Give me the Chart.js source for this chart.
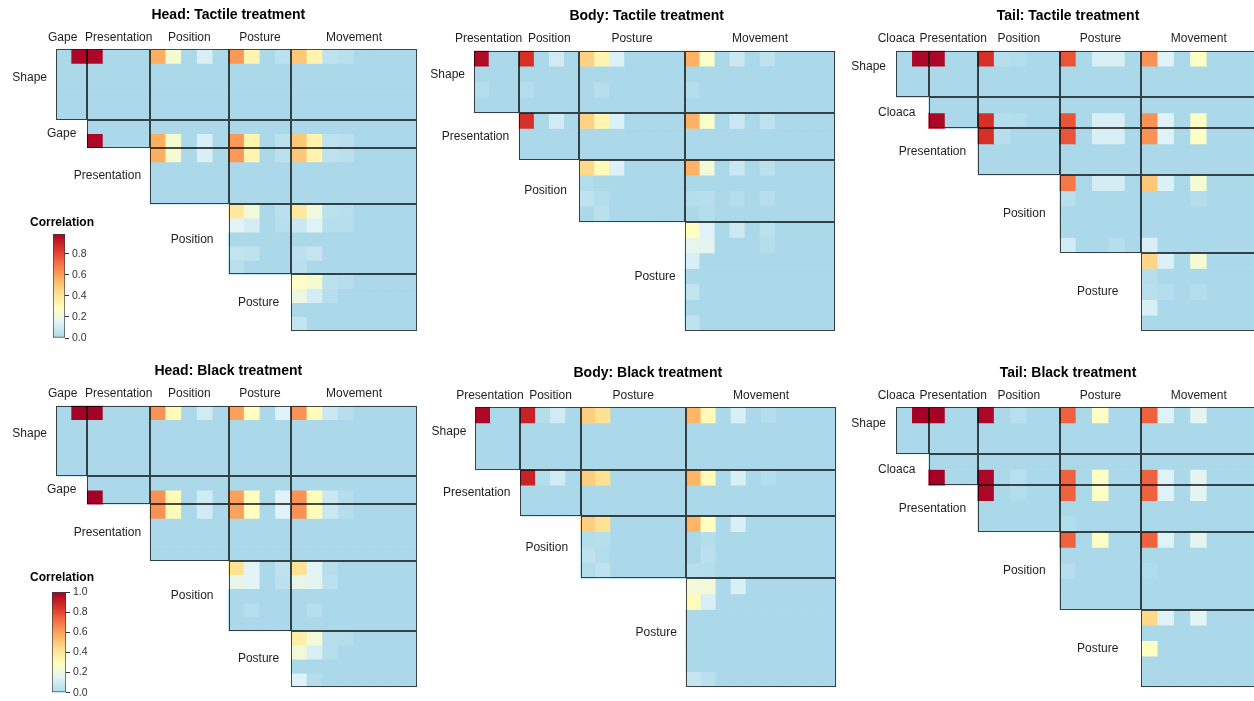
<!DOCTYPE html>
<html><head><meta charset="utf-8">
<script src="https://cdn.jsdelivr.net/npm/chart.js@4.4.1/dist/chart.umd.min.js"></script>
<style>
html,body{margin:0;padding:0;background:#fff;overflow:hidden;width:1254px;height:701px;}
#wrap{position:relative;width:1254px;height:701px;overflow:hidden;background:#fff;}
canvas{position:absolute;}
</style></head><body><div id="wrap">
<canvas id="p1" width="420" height="350" style="left:0;top:0"></canvas>
<canvas id="p2" width="420" height="350" style="left:420px;top:0"></canvas>
<canvas id="p3" width="420" height="350" style="left:840px;top:0"></canvas>
<canvas id="p4" width="420" height="351" style="left:0;top:350px"></canvas>
<canvas id="p5" width="420" height="351" style="left:420px;top:350px"></canvas>
<canvas id="p6" width="420" height="351" style="left:840px;top:350px"></canvas>
<canvas id="lg1" width="120" height="145" style="left:0;top:205px;z-index:2"></canvas>
<canvas id="lg2" width="120" height="140" style="left:0;top:562px;z-index:2"></canvas>
</div>
<script>
// ---------- categories ----------
const headColGroups = ["Gape","Presentation","Position","Posture","Movement"];
const headColSizes  = [2,4,5,4,8];
const headRowGroups = ["Shape","Gape","Presentation","Position","Posture"];
const headRowSizes  = [5,2,4,5,4];

const bodyColGroups = ["Presentation","Position","Posture","Movement"];
const bodyColSizes  = [3,4,7,10];
const bodyRowGroups = ["Shape","Presentation","Position","Posture"];
const bodyRowSizes  = [4,3,4,7];

const tailColGroups = ["Cloaca","Presentation","Position","Posture","Movement"];
const tailColSizes  = [2,3,5,5,7];
const tailRowGroups = ["Shape","Cloaca","Presentation","Position","Posture"];
const tailRowSizes  = [3,2,3,5,5];

// ---------- values: [row, column, correlation]; all other cells 0 ----------
const headTactileCells = [
 [0,1,0.98],[0,2,0.98],[0,6,0.57],[0,7,0.24],[0,9,0.12],[0,11,0.62],[0,12,0.33],[0,14,0.045],[0,15,0.5],[0,16,0.34],[0,17,0.05],[0,18,0.04],
 [6,2,0.98],[6,6,0.57],[6,7,0.24],[6,9,0.12],[6,11,0.62],[6,12,0.33],[6,14,0.045],[6,15,0.5],[6,16,0.34],[6,17,0.05],[6,18,0.04],
 [7,6,0.57],[7,7,0.24],[7,9,0.12],[7,11,0.62],[7,12,0.33],[7,14,0.045],[7,15,0.5],[7,16,0.34],[7,17,0.05],[7,18,0.04],
 [11,11,0.39],[11,12,0.22],[11,14,0.04],[11,15,0.39],[11,16,0.21],[11,17,0.045],[11,18,0.035],
 [12,11,0.15],[12,12,0.11],[12,14,0.03],[12,15,0.08],[12,16,0.14],[12,17,0.03],[12,18,0.03],
 [14,11,0.06],[14,12,0.05],[14,15,0.045],[14,16,0.07],
 [15,11,0.035],[15,15,0.04],
 [16,15,0.27],[16,16,0.24],[16,17,0.045],[16,18,0.03],
 [17,15,0.2],[17,16,0.11],[17,17,0.03],
 [19,15,0.06]
];
const bodyTactileCells = [
 [0,0,0.97],[0,3,0.86],[0,5,0.1],[0,7,0.47],[0,8,0.33],[0,9,0.13],[0,14,0.56],[0,15,0.26],[0,17,0.08],[0,19,0.05],
 [2,0,0.025],[2,3,0.025],[2,8,0.03],[2,14,0.025],
 [4,3,0.86],[4,5,0.1],[4,7,0.47],[4,8,0.33],[4,9,0.13],[4,14,0.56],[4,15,0.26],[4,17,0.08],[4,19,0.05],
 [7,7,0.45],[7,8,0.31],[7,9,0.13],[7,14,0.56],[7,15,0.22],[7,17,0.08],[7,19,0.045],
 [8,7,0.02],
 [9,7,0.05],[9,8,0.025],[9,14,0.025],[9,15,0.03],[9,17,0.025],[9,19,0.03],
 [10,8,0.04],[10,15,0.025],
 [11,14,0.28],[11,15,0.14],[11,17,0.09],[11,19,0.045],
 [12,14,0.17],[12,15,0.16],[12,19,0.025],
 [13,14,0.12],
 [15,14,0.06],
 [17,14,0.05]
];
const tailTactileCells = [
 [0,1,0.98],[0,2,0.98],[0,5,0.86],[0,6,0.03],[0,7,0.02],[0,10,0.77],[0,12,0.12],[0,13,0.12],[0,15,0.63],[0,16,0.14],[0,18,0.27],
 [4,2,0.98],[4,5,0.86],[4,6,0.03],[4,7,0.025],[4,10,0.77],[4,12,0.12],[4,13,0.12],[4,15,0.63],[4,16,0.14],[4,18,0.27],
 [5,5,0.86],[5,6,0.03],[5,10,0.77],[5,12,0.12],[5,13,0.12],[5,15,0.63],[5,16,0.14],[5,18,0.27],
 [8,10,0.69],[8,12,0.11],[8,13,0.11],[8,15,0.5],[8,16,0.13],[8,18,0.24],
 [9,10,0.035],[9,18,0.025],
 [12,10,0.1],[12,13,0.03],[12,15,0.12],
 [13,15,0.46],[13,16,0.13],[13,18,0.24],
 [14,15,0.03],
 [15,15,0.04],[15,16,0.025],[15,18,0.025],
 [16,15,0.12]
];
const headBlackCells = [
 [0,1,1.0],[0,2,1.0],[0,6,0.63],[0,7,0.31],[0,9,0.1],[0,11,0.6],[0,12,0.29],[0,14,0.14],[0,15,0.63],[0,16,0.3],[0,17,0.08],[0,18,0.03],
 [6,2,1.0],[6,6,0.63],[6,7,0.31],[6,9,0.1],[6,11,0.6],[6,12,0.29],[6,14,0.14],[6,15,0.63],[6,16,0.3],[6,17,0.08],[6,18,0.03],
 [7,6,0.63],[7,7,0.31],[7,9,0.1],[7,11,0.6],[7,12,0.29],[7,14,0.14],[7,15,0.63],[7,16,0.3],[7,17,0.08],[7,18,0.03],
 [11,11,0.42],[11,12,0.15],[11,14,0.05],[11,15,0.42],[11,16,0.15],[11,17,0.03],
 [12,11,0.18],[12,12,0.15],[12,14,0.045],[12,15,0.18],[12,16,0.16],[12,17,0.045],
 [14,12,0.03],[14,16,0.03],
 [16,15,0.36],[16,16,0.23],[16,17,0.03],[16,18,0.025],
 [17,15,0.22],[17,16,0.12],[17,17,0.03],
 [19,15,0.14],[19,16,0.025]
];
const bodyBlackCells = [
 [0,0,0.98],[0,3,0.9],[0,4,0.025],[0,5,0.1],[0,7,0.48],[0,8,0.42],[0,14,0.55],[0,15,0.31],[0,17,0.12],[0,19,0.025],
 [4,3,0.9],[4,4,0.025],[4,5,0.1],[4,7,0.48],[4,8,0.42],[4,14,0.55],[4,15,0.31],[4,17,0.12],[4,19,0.025],
 [7,7,0.48],[7,8,0.42],[7,14,0.55],[7,15,0.28],[7,17,0.12],
 [8,7,0.025],[8,8,0.03],[8,15,0.025],
 [9,7,0.05],[9,8,0.02],[9,15,0.04],
 [10,7,0.02],[10,8,0.05],[10,14,0.03],[10,15,0.025],
 [11,14,0.22],[11,15,0.22],[11,17,0.12],
 [12,14,0.3],[12,15,0.12],
 [17,14,0.07],[17,15,0.04]
];
const tailBlackCells = [
 [0,1,1.0],[0,2,1.0],[0,5,0.98],[0,7,0.035],[0,10,0.74],[0,12,0.27],[0,15,0.74],[0,16,0.14],[0,18,0.16],
 [4,2,1.0],[4,5,0.98],[4,7,0.035],[4,10,0.74],[4,12,0.27],[4,15,0.74],[4,16,0.14],[4,18,0.16],
 [5,5,0.98],[5,7,0.02],[5,10,0.74],[5,12,0.27],[5,15,0.74],[5,16,0.14],[5,18,0.16],
 [7,10,0.02],
 [8,10,0.74],[8,12,0.27],[8,15,0.74],[8,16,0.14],[8,18,0.16],
 [10,10,0.03],[10,15,0.015],
 [13,15,0.45],[13,16,0.14],[13,18,0.16],
 [15,15,0.28]
];

// ---------- colour bar tick labels ----------
const legendTicksTactile = [0, 0.2, 0.4, 0.6, 0.8];
const legendTicksBlack   = [0, 0.2, 0.4, 0.6, 0.8, 1.0];

// ---------- styling ----------
const FONT = "'Liberation Sans', Arial, Helvetica, sans-serif";
const colorStops = [[0,'#abd9e9'],[1/7,'#e0f3f8'],[2/7,'#ffffbf'],[3/7,'#fee090'],[4/7,'#fdae61'],[5/7,'#f46d43'],[6/7,'#d73027'],[1,'#a50026']];
function hex2rgb(h){return [parseInt(h.slice(1,3),16),parseInt(h.slice(3,5),16),parseInt(h.slice(5,7),16)];}
function valColor(v){
  v = Math.max(0, Math.min(1, v));
  for (let i = 1; i < colorStops.length; i++) {
    if (v <= colorStops[i][0]) {
      const [a, ca] = colorStops[i-1], [b, cb] = colorStops[i];
      const t = (v - a) / (b - a), A = hex2rgb(ca), B = hex2rgb(cb);
      return `rgb(${A.map((x,k)=>Math.round(x+(B[k]-x)*t)).join(',')})`;
    }
  }
  return colorStops[colorStops.length-1][1];
}
const sum = a => a.reduce((s,x)=>s+x,0);
const starts = a => a.map((_,i)=>sum(a.slice(0,i)));

function makePanel(id, title, colGroups, colSizes, rowGroups, rowSizes, cells, pad, lay) {
  const nCols = sum(colSizes), nRows = sum(rowSizes);
  const cStart = starts(colSizes), rStart = starts(rowSizes);
  const vals = Array.from({length:nRows}, () => new Array(nCols).fill(0));
  cells.forEach(([r,c,v]) => { vals[r][c] = v; });
  const labels = [];
  colGroups.forEach((g,i) => { for (let k=0;k<colSizes[i];k++) labels.push(g+' '+(k+1)); });
  const datasets = [];
  rowGroups.forEach((g,k) => {
    for (let j = 0; j < rowSizes[k]; j++) {
      const r = rStart[k] + j;
      datasets.push({
        label: g + ' ' + (j+1),
        data: labels.map((_,c) => c >= cStart[k] ? [r, r+1] : null),
        backgroundColor: labels.map((_,c) => valColor(vals[r][c])),
        borderWidth: 0,
        grouped: false,
        barPercentage: 1,
        categoryPercentage: 1
      });
    }
  });
  const deco = {
    id: 'deco' + id,
    afterDatasetsDraw(chart) {
      const ctx = chart.ctx, xs = chart.scales.x, ys = chart.scales.y;
      const xe = c => xs.getPixelForValue(c - 0.5), ye = r => ys.getPixelForValue(r);
      ctx.save();
      ctx.strokeStyle = 'rgba(0,0,0,0.7)';
      ctx.lineWidth = 1;
      rowGroups.forEach((_,k) => {
        for (let j = k; j < colGroups.length; j++) {
          const x0 = Math.round(xe(cStart[j])) + 0.5, x1 = Math.round(xe(cStart[j] + colSizes[j])) - 0.5;
          const y0 = Math.round(ye(rStart[k])) + 0.5, y1 = Math.round(ye(rStart[k] + rowSizes[k])) - 0.5;
          ctx.strokeRect(x0, y0, x1 - x0, y1 - y0);
        }
      });
      ctx.restore();
    },
    afterDraw(chart) {
      const ctx = chart.ctx, xs = chart.scales.x, ys = chart.scales.y, ca = chart.chartArea;
      const xe = c => xs.getPixelForValue(c - 0.5), ye = r => ys.getPixelForValue(r);
      ctx.save();
      ctx.textBaseline = 'middle';
      ctx.textAlign = 'center';
      ctx.fillStyle = '#000';
      ctx.font = `bold 14px ${FONT}`;
      ctx.fillText(title, (ca.left + ca.right) / 2 - 8, ca.top - 34.5);
      ctx.font = `12px ${FONT}`;
      ctx.fillStyle = '#1e1e1e';
      colGroups.forEach((g,j) => {
        const cx = (xe(cStart[j]) + xe(cStart[j] + colSizes[j])) / 2 + lay.colNudge[j];
        ctx.fillText(g, cx, ca.top - 12);
      });
      ctx.textAlign = 'right';
      rowGroups.forEach((g,k) => {
        const x = xe(cStart[k]) - lay.rowGap[k];
        const y = (ye(rStart[k]) + ye(rStart[k] + rowSizes[k])) / 2 + (k === 0 ? -7 : 0);
        ctx.fillText(g, x, y);
      });
      ctx.restore();
    }
  };
  new Chart(document.getElementById(id), {
    type: 'bar',
    data: { labels, datasets },
    options: {
      responsive: false, animation: false, devicePixelRatio: 1,
      layout: { padding: pad },
      plugins: { legend: {display:false}, tooltip: {enabled:false}, title: {display:false} },
      scales: {
        x: { type: 'category', display: false, offset: true },
        y: { type: 'linear', display: false, min: 0, max: nRows, reverse: true }
      }
    },
    plugins: [deco]
  });
}

function makeLegend(id, maxVal, ticks, pad, titleGap) {
  new Chart(document.getElementById(id), {
    type: 'bar',
    data: { labels: ['Correlation'], datasets: [{
      data: [[0, maxVal]],
      backgroundColor: (c) => {
        const ch = c.chart, ys = ch.scales.y;
        if (!ch.chartArea || !ys) return colorStops[0][1];
        const g = ch.ctx.createLinearGradient(0, ys.getPixelForValue(0), 0, ys.getPixelForValue(1));
        colorStops.forEach(([t, col]) => g.addColorStop(t, col));
        return g;
      },
      borderColor: '#3a3a3a', borderWidth: 1, borderSkipped: false,
      barPercentage: 1, categoryPercentage: 1
    }]},
    options: {
      responsive: false, animation: false, devicePixelRatio: 1,
      layout: { padding: pad },
      plugins: { legend: {display:false}, tooltip: {enabled:false} },
      scales: {
        x: { display: false },
        y: {
          position: 'right', min: 0, max: maxVal,
          afterBuildTicks: s => { s.ticks = ticks.map(v => ({value: v})); },
          afterFit: s => { s.width = 40; },
          grid: { drawOnChartArea: false, drawTicks: true, tickLength: 4, color: '#333', lineWidth: 1 },
          border: { display: false },
          ticks: { color: '#333', padding: 3, font: { family: FONT, size: 10.5 }, callback: v => Number(v).toFixed(1) }
        }
      }
    },
    plugins: [{
      id: 'lgTitle',
      afterDraw(chart) {
        const ctx = chart.ctx, ca = chart.chartArea;
        ctx.save();
        ctx.font = `bold 12px ${FONT}`;
        ctx.fillStyle = '#000';
        ctx.textAlign = 'center'; ctx.textBaseline = 'middle';
        ctx.fillText('Correlation', (ca.left + ca.right) / 2 + 3, ca.top - titleGap);
        ctx.restore();
      }
    }]
  });
}

const layHead = { colNudge: [-9,0,0,0,0], rowGap: [9,11,9,15,12] };
const layBody = { colNudge: [-8,0,0,0], rowGap: [9,10,12.5,9] };
const layTail = { colNudge: [-16,0,0,0,0], rowGap: [10,13.4,11.6,14,23] };

makePanel('p1', 'Head: Tactile treatment', headColGroups, headColSizes, headRowGroups, headRowSizes, headTactileCells, {left:56, top:49.3, right:3.3, bottom:19.3}, layHead);
makePanel('p2', 'Body: Tactile treatment', bodyColGroups, bodyColSizes, bodyRowGroups, bodyRowSizes, bodyTactileCells, {left:54, top:50.7, right:4.7, bottom:19.3}, layBody);
makePanel('p3', 'Tail: Tactile treatment', tailColGroups, tailColSizes, tailRowGroups, tailRowSizes, tailTactileCells, {left:56, top:50.7, right:4, bottom:19.3}, layTail);
makePanel('p4', 'Head: Black treatment', headColGroups, headColSizes, headRowGroups, headRowSizes, headBlackCells, {left:56, top:55.7, right:3.3, bottom:13.7}, layHead);
makePanel('p5', 'Body: Black treatment', bodyColGroups, bodyColSizes, bodyRowGroups, bodyRowSizes, bodyBlackCells, {left:55.3, top:57.3, right:3.7, bottom:13.7}, layBody);
makePanel('p6', 'Tail: Black treatment', tailColGroups, tailColSizes, tailRowGroups, tailRowSizes, tailBlackCells, {left:56, top:57.3, right:4, bottom:13.7}, layTail);

makeLegend('lg1', 0.99, legendTicksTactile, {left:53, right:15, top:29, bottom:12}, 11);
makeLegend('lg2', 1.0, legendTicksBlack, {left:52, right:14, top:30, bottom:6}, 14);
</script></body></html>
